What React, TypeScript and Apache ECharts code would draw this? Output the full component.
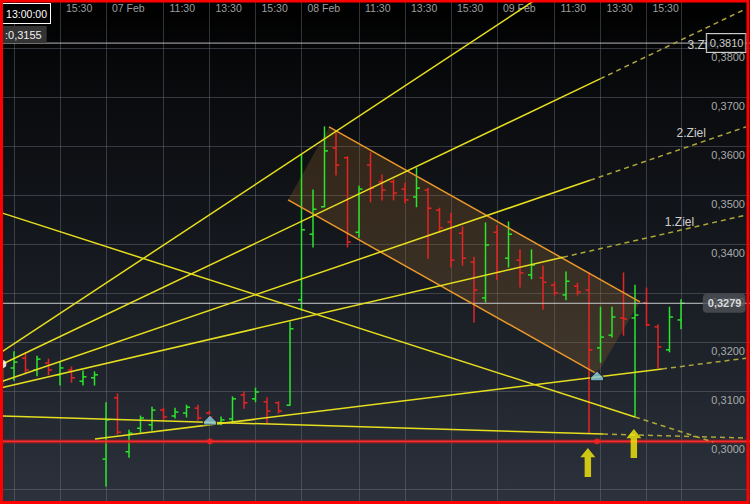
import React, { useEffect, useRef } from 'react';
import * as echarts from 'echarts';

// ---------- data ----------
const firstBar = -1; // bar index of the first OHLC bar (30-minute bars)
const opens = [
  0.3122, 0.3147, 0.3167, 0.3143, 0.3157, 0.3133, 0.3143, 0.3120, 0.3127,
  0.2961, 0.3086, 0.2976, 0.3024, 0.3031, 0.3061, 0.3049, 0.3055, 0.3065, 0.3055, 0.3035, 0.3043, 0.3092, 0.3084, 0.3078, 0.3076, 0.3071,
  0.3286, 0.3420, 0.3476, 0.3596, 0.3576, 0.3424, 0.3561, 0.3527, 0.3527, 0.3512, 0.3496, 0.3510, 0.3469, 0.3445, 0.3422, 0.3363, 0.3290,
  0.3424, 0.3371, 0.3367, 0.3337, 0.3331, 0.3316, 0.3296, 0.3314, 0.3306, 0.3188, 0.3214, 0.3249, 0.3249, 0.3280, 0.3231, 0.3184, 0.3245,
];
const highs = [
  0.3155, 0.3180, 0.3178, 0.3171, 0.3165, 0.3159, 0.3149, 0.3141, 0.3139,
  0.3076, 0.3094, 0.3020, 0.3049, 0.3067, 0.3065, 0.3065, 0.3071, 0.3071, 0.3059, 0.3047, 0.3088, 0.3098, 0.3106, 0.3086, 0.3078, 0.3241,
  0.3582, 0.3510, 0.3639, 0.3627, 0.3578, 0.3518, 0.3586, 0.3541, 0.3531, 0.3524, 0.3555, 0.3514, 0.3473, 0.3463, 0.3435, 0.3373, 0.3443,
  0.3437, 0.3445, 0.3388, 0.3388, 0.3355, 0.3322, 0.3343, 0.3320, 0.3341, 0.3271, 0.3271, 0.3341, 0.3316, 0.3310, 0.3235, 0.3271, 0.3286,
];
const lows = [
  0.3114, 0.3122, 0.3137, 0.3131, 0.3133, 0.3112, 0.3118, 0.3112, 0.3112,
  0.2906, 0.3012, 0.2965, 0.3016, 0.3020, 0.3041, 0.3045, 0.3047, 0.3041, 0.3043, 0.3031, 0.3035, 0.3065, 0.3078, 0.3033, 0.3055, 0.3071,
  0.3265, 0.3394, 0.3476, 0.3541, 0.3394, 0.3414, 0.3486, 0.3490, 0.3490, 0.3484, 0.3476, 0.3371, 0.3424, 0.3353, 0.3357, 0.3241, 0.3282,
  0.3327, 0.3353, 0.3312, 0.3329, 0.3267, 0.3296, 0.3286, 0.3296, 0.3014, 0.3159, 0.3210, 0.3214, 0.3047, 0.3233, 0.3147, 0.3180, 0.3227,
];
const closes = [
  0.3151, 0.3159, 0.3143, 0.3165, 0.3143, 0.3147, 0.3127, 0.3129, 0.3133,
  0.3041, 0.3016, 0.3014, 0.3045, 0.3061, 0.3047, 0.3057, 0.3067, 0.3045, 0.3047, 0.3041, 0.3084, 0.3076, 0.3098, 0.3059, 0.3059, 0.3227,
  0.3429, 0.3471, 0.3590, 0.3561, 0.3404, 0.3512, 0.3514, 0.3510, 0.3504, 0.3490, 0.3514, 0.3473, 0.3433, 0.3367, 0.3371, 0.3306, 0.3398,
  0.3343, 0.3420, 0.3341, 0.3357, 0.3322, 0.3300, 0.3324, 0.3302, 0.3184, 0.3210, 0.3251, 0.3247, 0.3255, 0.3235, 0.3190, 0.3251, 0.3279,
];

const tickIdx = [4, 8, 13, 17, 21, 25, 30, 34, 38, 42, 47, 51, 55];
const tickLabels = ['15:30', '07 Feb', '11:30', '13:30', '15:30', '08 Feb', '11:30', '13:30', '15:30', '09 Feb', '11:30', '13:30', '15:30'];
const extraGridIdx = [0, 58];

// trend lines: [[barIndex, price], [barIndex, price]]
const trendSolid = [
  [[-1, 0.3181], [45.2, 0.3896]],
  [[-1, 0.3155], [50.96, 0.3737]],
  [[-1, 0.3120], [50.09, 0.3530]],
  [[-1, 0.3107], [47.74, 0.3373]],
  [[-1, 0.3463], [54, 0.3047]],
  [[-1, 0.3049], [51.22, 0.3012]],
  [[7.04, 0.3002], [56.35, 0.3145]],
];
const trendDashed = [
  [[50.96, 0.3737], [63.65, 0.3880]],
  [[50.09, 0.3530], [63.65, 0.3639]],
  [[47.74, 0.3373], [63.65, 0.3459]],
  [[54, 0.3047], [60.78, 0.2996]],
  [[51.22, 0.3012], [63.65, 0.3004]],
  [[56.35, 0.3145], [63.65, 0.3167]],
];
const channelUpper = [[27.39, 0.3639], [54.43, 0.3282]];
const channelLower = [[23.83, 0.3490], [50.7, 0.3135]];
const supportLevel = 0.2997;
const supportDots = [17.04, 50.7];
const triangleMarks = [[17.04, 0.3041], [50.7, 0.3131]];
const arrowMarks = [[49.9, 0.2954], [53.9, 0.2993]];
const lastPrice = 0.3279;
const crossPrice = 0.381;
const crossPoint = [-1, 0.3155];
const zielNames = ['3.Ziel', '2.Ziel', '1.Ziel'];
const zielX = [58.52, 57.57, 56.55];
const zielY = [0.3806, 0.36265, 0.34449];

// ---------- chart ----------
const FONT = "'Liberation Sans', Arial, sans-serif";
const GREEN = '#2be42b';
const RED = '#e42424';
const YELLOW = '#e6de1e';
const YELLOW_DASH = '#aea63a';
const ORANGE = '#ea972a';
const X_MIN = -1;
const X_MAX = 64;

const fmtPrice = (v: number) => v.toFixed(4).replace('.', ',');

function buildOption() {
  const labelMap = new Map<number, string>();
  tickIdx.forEach((t, k) => labelMap.set(t, tickLabels[k]));
  const gridSet = new Set<number>([...tickIdx, ...extraGridIdx]);
  const xCats: string[] = [];
  for (let i = X_MIN; i <= X_MAX; i++) xCats.push(String(i));

  const lineSeries = (pts: number[][], color: string, width: number, dashed: boolean, z: number) => ({
    type: 'line',
    xAxisIndex: 1,
    yAxisIndex: 0,
    data: pts,
    symbol: 'none',
    showSymbol: false,
    silent: true,
    z,
    lineStyle: { color, width, type: dashed ? [5, 4] : 'solid' },
  });

  const series: any[] = [];

  // channel fill
  series.push({
    type: 'custom',
    xAxisIndex: 1,
    yAxisIndex: 0,
    z: 1,
    silent: true,
    data: [[channelLower[0][0], channelLower[0][1]]],
    renderItem: (_p: any, api: any) => {
      const pts = [channelLower[0], channelUpper[0], channelUpper[1], channelLower[1]].map((q) => api.coord(q));
      return { type: 'polygon', shape: { points: pts }, style: { fill: 'rgba(150,105,45,0.27)' } };
    },
  });

  // OHLC bars
  series.push({
    type: 'custom',
    xAxisIndex: 1,
    yAxisIndex: 0,
    z: 2,
    silent: true,
    data: opens.map((o, k) => [firstBar + k, o, closes[k], lows[k], highs[k]]),
    encode: { x: 0, y: [1, 2, 3, 4] },
    renderItem: (_p: any, api: any) => {
      const i = api.value(0);
      const o = api.value(1);
      const c = api.value(2);
      const l = api.value(3);
      const h = api.value(4);
      const pH = api.coord([i, h]);
      const pL = api.coord([i, l]);
      const pO = api.coord([i, o]);
      const pC = api.coord([i, c]);
      const color = c >= o ? GREEN : RED;
      const st = { stroke: color, lineWidth: 1.5 };
      return {
        type: 'group',
        children: [
          { type: 'line', shape: { x1: pH[0], y1: pH[1] - 0.5, x2: pL[0], y2: pL[1] + 0.5 }, style: st },
          { type: 'line', shape: { x1: pO[0] - 3.5, y1: pO[1], x2: pO[0], y2: pO[1] }, style: st },
          { type: 'line', shape: { x1: pC[0], y1: pC[1], x2: pC[0] + 3.5, y2: pC[1] }, style: st },
        ],
      };
    },
  });

  // price & crosshair lines
  series.push(lineSeries([[X_MIN, lastPrice], [X_MAX, lastPrice]], '#c9c9c9', 1, false, 2));
  series.push(lineSeries([[X_MIN, crossPrice], [X_MAX, crossPrice]], '#b8b8b8', 1, false, 2));

  // red support level (glow + core)
  series.push(lineSeries([[X_MIN, supportLevel], [X_MAX, supportLevel]], 'rgba(200,20,20,0.55)', 4, false, 3));
  series.push(lineSeries([[X_MIN, supportLevel], [X_MAX, supportLevel]], '#ff2b2b', 1.5, false, 3));

  // channel lines
  series.push(lineSeries(channelUpper, ORANGE, 1.5, false, 3));
  series.push(lineSeries(channelLower, ORANGE, 1.5, false, 3));

  // trend lines
  trendSolid.forEach((seg) => series.push(lineSeries(seg, YELLOW, 1.5, false, 4)));
  trendDashed.forEach((seg) => series.push(lineSeries(seg, YELLOW_DASH, 1.5, true, 4)));

  // red dots
  series.push({
    type: 'scatter', xAxisIndex: 1, yAxisIndex: 0, z: 5, silent: true,
    symbol: 'circle', symbolSize: 6,
    itemStyle: { color: '#ff2020' },
    data: supportDots.map((x) => [x, supportLevel]),
  });

  // triangles
  series.push({
    type: 'scatter', xAxisIndex: 1, yAxisIndex: 0, z: 6, silent: true,
    symbol: 'path://M6,0 L12,6 L12,9 L0,9 L0,6 Z', symbolSize: [13, 10],
    itemStyle: { color: '#8acbdd', borderColor: '#111', borderWidth: 1 },
    data: triangleMarks,
  });

  // arrows
  series.push({
    type: 'scatter', xAxisIndex: 1, yAxisIndex: 0, z: 6, silent: true,
    symbol: 'path://M7,0 L14,9 L10,9 L10,28 L4,28 L4,9 L0,9 Z', symbolSize: [15, 29],
    itemStyle: { color: '#f7ee0c' },
    data: arrowMarks,
  });

  // crosshair point
  series.push({
    type: 'scatter', xAxisIndex: 1, yAxisIndex: 0, z: 6, silent: true,
    symbol: 'circle', symbolSize: 8, itemStyle: { color: '#ffffff' },
    data: [crossPoint],
  });

  // Ziel labels
  series.push({
    type: 'scatter', xAxisIndex: 1, yAxisIndex: 0, z: 7, silent: true,
    symbolSize: 1, itemStyle: { color: 'transparent' },
    data: zielNames.map((n, k) => [zielX[k], zielY[k], n]),
    label: {
      show: true, position: 'right', distance: 0,
      formatter: (p: any) => p.value[2],
      color: '#ffffff', fontSize: 12, fontFamily: FONT,
    },
  });

  // crosshair price box
  series.push({
    type: 'scatter', xAxisIndex: 1, yAxisIndex: 0, z: 8, silent: true,
    symbolSize: 1, itemStyle: { color: 'transparent' },
    data: [[63.65, crossPrice]],
    label: {
      show: true, position: 'left', distance: 0,
      formatter: () => fmtPrice(crossPrice),
      color: '#ffffff', fontSize: 11, fontFamily: FONT,
      backgroundColor: '#000000', borderColor: '#ffffff', borderWidth: 1,
      padding: [4, 2, 3, 3],
    },
  });

  // last price box
  series.push({
    type: 'scatter', xAxisIndex: 1, yAxisIndex: 0, z: 8, silent: true,
    symbolSize: 1, itemStyle: { color: 'transparent' },
    data: [[63.65, lastPrice]],
    label: {
      show: true, position: 'left', distance: 0,
      formatter: () => fmtPrice(lastPrice),
      color: '#ffffff', fontSize: 11, fontWeight: 'bold', fontFamily: FONT,
      backgroundColor: '#4f5257', borderRadius: 4,
      padding: [4, 4, 4, 5],
    },
  });

  return {
    animation: false,
    backgroundColor: 'transparent',
    grid: { left: 2.5, right: 0, top: -1, bottom: -34, containLabel: false, outerBoundsMode: 'none' },
    xAxis: [
      {
        type: 'category',
        data: xCats,
        boundaryGap: false,
        position: 'top',
        axisLine: { show: false },
        axisTick: { show: false },
        axisLabel: {
          inside: true,
          margin: 3,
          align: 'left',
          verticalAlign: 'top',
          padding: [0, 0, 0, 6],
          color: '#9d9d9d',
          fontSize: 10.5,
          fontFamily: FONT,
          interval: (_idx: number, val: string) => labelMap.has(Number(val)),
          formatter: (val: string) => labelMap.get(Number(val)) ?? '',
        },
        splitLine: {
          show: true,
          interval: (_idx: number, val: string) => gridSet.has(Number(val)),
          lineStyle: { color: 'rgba(115,120,130,0.42)', width: 1 },
        },
      },
      { type: 'value', min: X_MIN, max: X_MAX, show: false },
    ],
    yAxis: {
      type: 'value',
      position: 'right',
      min: 0.28,
      max: 0.39,
      interval: 0.01,
      axisLine: { show: false },
      axisTick: { show: false },
      axisLabel: {
        inside: true,
        margin: 5,
        verticalAlign: 'top',
        padding: [3, 0, 0, 0],
        color: '#a9a9a9',
        fontSize: 11,
        fontFamily: FONT,
        formatter: (v: number) => (v > 0.2995 && v < 0.3805 ? fmtPrice(v) : ''),
      },
      splitLine: { show: true, lineStyle: { color: 'rgba(115,120,130,0.42)', width: 1 } },
    },
    graphic: [
      {
        type: 'text', x: 50, y: 4, z: 50, silent: true,
        style: {
          text: '2 13:00:00', fill: '#ffffff', font: `10.5px ${FONT}`, align: 'right', verticalAlign: 'top',
          backgroundColor: '#000000', borderColor: '#ffffff', borderWidth: 1, padding: [4, 3, 4, 4],
        },
      },
      {
        type: 'text', x: 2, y: 26, z: 50, silent: true,
        style: {
          text: ':0,3155', fill: '#f0f0f0', font: `11px ${FONT}`, align: 'left', verticalAlign: 'top',
          backgroundColor: '#333333', padding: [3, 5, 3, 3],
        },
      },
      {
        type: 'rect', z: 100, silent: true,
        shape: { x: 1.5, y: 1, width: 746.5, height: 501.5 },
        style: { fill: 'none', stroke: '#ff0000', lineWidth: 3 },
      },
    ],
    series,
  };
}

export default function App() {
  const ref = useRef<HTMLDivElement>(null);
  useEffect(() => {
    if (!ref.current) return;
    const chart = echarts.init(ref.current, null, { renderer: 'svg' });
    chart.setOption(buildOption() as any);
    return () => chart.dispose();
  }, []);
  return (
    <div
      ref={ref}
      style={{
        position: 'fixed',
        left: 0,
        top: 0,
        width: 750,
        height: 504,
        background: 'linear-gradient(to bottom, #000000 0%, #08090b 15%, #13161b 45%, #20252d 75%, #2c323c 100%)',
      }}
    />
  );
}
